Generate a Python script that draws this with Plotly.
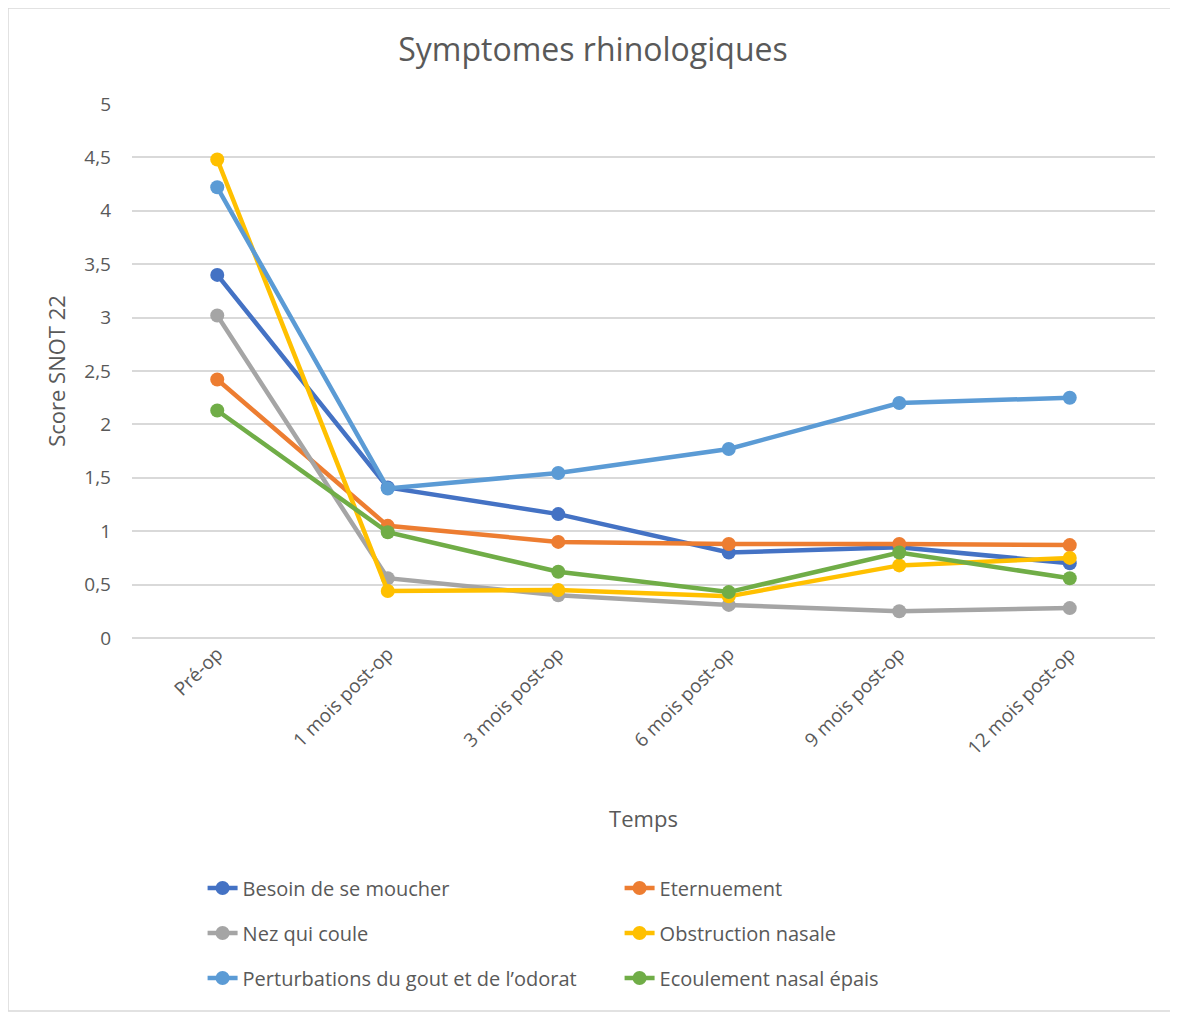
import plotly.graph_objects as go

# categories (time points)
temps = ["Pré-op", "1 mois post-op", "3 mois post-op", "6 mois post-op",
         "9 mois post-op", "12 mois post-op"]

# SNOT 22 scores
besoin_moucher = [3.40, 1.41, 1.16, 0.80, 0.85, 0.70]
eternuement = [2.42, 1.05, 0.90, 0.88, 0.88, 0.87]
nez_coule = [3.02, 0.56, 0.40, 0.31, 0.25, 0.28]
obstruction = [4.48, 0.44, 0.45, 0.39, 0.68, 0.75]
perturbations = [4.22, 1.40, 1.545, 1.77, 2.20, 2.25]
ecoulement = [2.13, 0.99, 0.62, 0.43, 0.80, 0.56]

series = [
    ("Besoin de se moucher", besoin_moucher, "#4472C4", "legend"),
    ("Eternuement", eternuement, "#ED7D31", "legend"),
    ("Nez qui coule", nez_coule, "#A5A5A5", "legend2"),
    ("Obstruction nasale", obstruction, "#FFC000", "legend2"),
    ("Perturbations du gout et de l\u2019odorat", perturbations, "#5B9BD5", "legend3"),
    ("Ecoulement nasal épais", ecoulement, "#70AD47", "legend3"),
]

FONT = "Open Sans"
GREY = "#595959"

# the page body adds an 8px offset, so the figure is 8px smaller
W, H = 1170, 1004
fig = go.Figure()
for name, vals, col, leg in series:
    fig.add_trace(go.Scatter(
        x=temps, y=vals, name=name, mode="lines+markers",
        line=dict(color=col, width=4.5),
        marker=dict(color=col, size=14),
        legend=leg,
    ))

# plot area in page pixels: x 132..1155, y 104..638
def leg(ypx):
    return dict(
        orientation="h", x=0.069, xanchor="left",
        y=(638 - ypx) / 534, yanchor="middle",
        entrywidth=372, entrywidthmode="pixels",
        font=dict(family=FONT, size=20, color=GREY),
        bgcolor="rgba(0,0,0,0)", traceorder="normal",
    )

fig.update_layout(
    width=W, height=H,
    margin=dict(l=124, r=23, t=96, b=374),
    paper_bgcolor="white", plot_bgcolor="white",
    separators=", ",
    font=dict(family=FONT, color=GREY),
    title=dict(text="Symptomes rhinologiques", x=0.5, xanchor="center",
               y=1 - 42 / H, yref="container", yanchor="middle",
               font=dict(family=FONT, size=32, color=GREY)),
    xaxis=dict(
        type="category", range=[-0.5, 5.5], tickangle=-45,
        showgrid=False, showline=False, ticks="",
        tickfont=dict(family=FONT, size=19, color=GREY),
        title=dict(text="Temps", font=dict(family=FONT, size=22, color=GREY),
                   standoff=52),
    ),
    yaxis=dict(
        range=[0, 5], dtick=0.5, showgrid=True, gridcolor="#D9D9D9",
        gridwidth=1.5, zeroline=True, zerolinecolor="#D9D9D9", zerolinewidth=1.5,
        showline=False, ticks="", automargin=False, ticklabelstandoff=20,
        tickfont=dict(family=FONT, size=19, color=GREY),
        title=dict(text="Score SNOT 22", font=dict(family=FONT, size=22, color=GREY),
                   standoff=12),
    ),
    legend=leg(888), legend2=leg(933), legend3=leg(978),
    shapes=[dict(type="rect", xref="paper", yref="paper",
                 x0=-124 / 1023, x1=(W - 1 - 124) / 1023,
                 y0=(630 - H + 1) / 534, y1=630 / 534,
                 line=dict(color="#D9D9D9", width=1.5), fillcolor="rgba(0,0,0,0)",
                 layer="below")],
)

fig.write_html("out.html")
